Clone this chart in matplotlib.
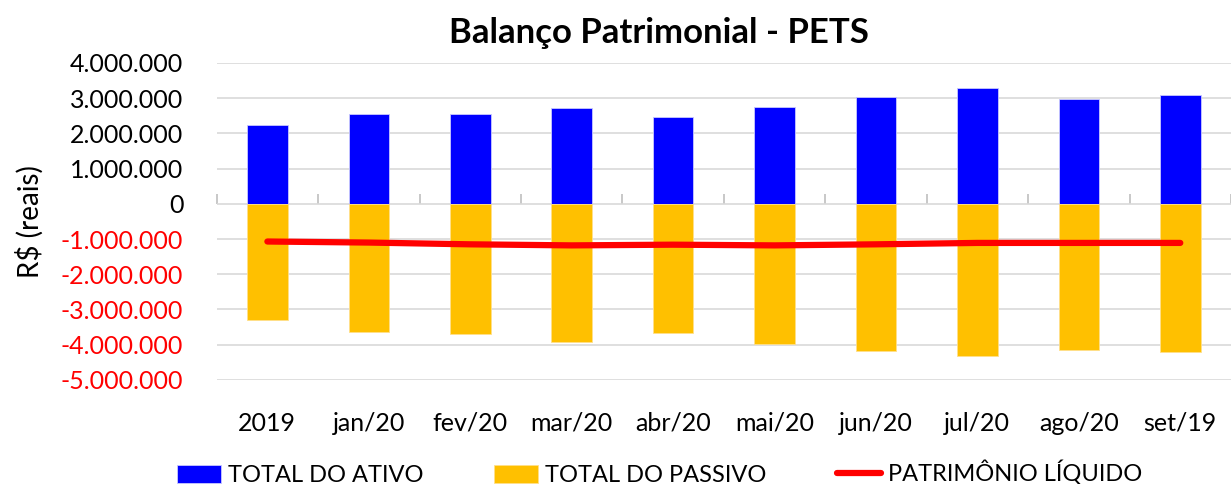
import matplotlib
matplotlib.use('Agg')
import matplotlib.pyplot as plt
import matplotlib.ticker as mticker
import numpy as np

# values (R$)
months = ['2019', 'jan/20', 'fev/20', 'mar/20', 'abr/20', 'mai/20',
          'jun/20', 'jul/20', 'ago/20', 'set/19']
total_ativo = [2240000, 2540000, 2540000, 2720000, 2460000, 2760000,
               3020000, 3290000, 2980000, 3100000]
total_passivo = [-3300000, -3630000, -3700000, -3920000, -3660000, -3970000,
                 -4180000, -4320000, -4140000, -4210000]
patrimonio_liquido = [-1070000, -1100000, -1150000, -1180000, -1160000,
                      -1180000, -1150000, -1110000, -1110000, -1110000]

plt.rcParams['font.family'] = ['Lato', 'DejaVu Sans']

fig = plt.figure(figsize=(12.31, 4.84), dpi=100)
ax = fig.add_axes([0.176, 0.215, 0.824, 0.655])

x = np.arange(len(months))
b1 = ax.bar(x, total_ativo, width=0.4, color='#0000FF', edgecolor='#c8c8ff',
            linewidth=0.6, label='TOTAL DO ATIVO', zorder=3)
b2 = ax.bar(x, total_passivo, width=0.4, color='#FFC000', edgecolor='#ffe08a',
            linewidth=0.6, label='TOTAL DO PASSIVO', zorder=3)
ln, = ax.plot(x, patrimonio_liquido, color='#FF0000', linewidth=4.5,
              solid_capstyle='round', label='PATRIMÔNIO LÍQUIDO', zorder=4)

ylo, yhi = -5000000, 4000000
ax.set_ylim(ylo, yhi)
ax.set_xlim(-0.5, len(months) - 0.5)
ax.yaxis.set_major_locator(mticker.MultipleLocator(1000000))
ax.yaxis.set_major_formatter(mticker.FuncFormatter(
    lambda v, p: '{:,.0f}'.format(v).replace(',', '.')))
ax.grid(axis='y', color='#d9d9d9', linewidth=1.2, zorder=0)
for s in ax.spines.values():
    s.set_visible(False)
ax.tick_params(axis='y', length=0, labelsize=18, pad=24)
for lbl, v in zip(ax.get_yticklabels(), ax.get_yticks()):
    lbl.set_color('#FF0000' if v < 0 else 'black')

ax.set_xticks(x)
ax.set_xticklabels(months)
ax.tick_params(axis='x', length=0, labelsize=18, pad=23)

# zero line with category-boundary ticks
zero_pos = (0 - ylo) / (yhi - ylo)
sec = ax.secondary_xaxis(zero_pos)
sec.set_xticks(np.arange(len(months) + 1) - 0.5)
sec.set_xticklabels([])
sec.tick_params(axis='x', direction='out', length=7, color='#bfbfbf', width=1.2)
sec.spines['bottom'].set_color('#bfbfbf')
sec.spines['bottom'].set_linewidth(1.2)
sec.spines['top'].set_visible(False)

ax.set_ylabel('R$ (reais)', fontsize=20, labelpad=12)
fig.suptitle('Balanço Patrimonial - PETS', fontsize=25, fontweight='bold',
             x=0.535, y=0.965)

fig.legend(handles=[b1, b2, ln], loc='lower center', ncol=3,
           bbox_to_anchor=(0.536, -0.048), frameon=False, fontsize=17,
           handlelength=1.85, handleheight=0.8, handletextpad=0.3,
           columnspacing=3.0)

fig.savefig('out.png', dpi=100)
